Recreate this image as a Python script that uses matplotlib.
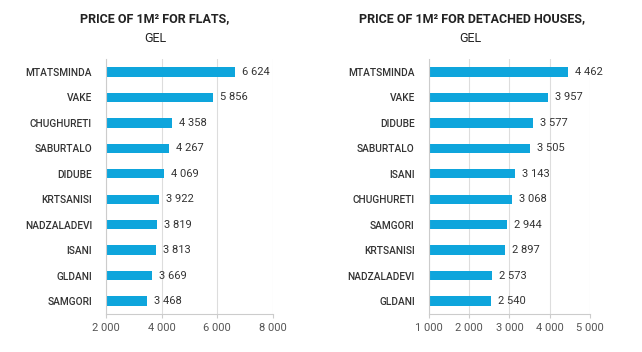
import matplotlib.pyplot as plt

plt.rcParams['font.family'] = ['Roboto', 'DejaVu Sans']

flat_districts = ['MTATSMINDA', 'VAKE', 'CHUGHURETI', 'SABURTALO', 'DIDUBE',
                  'KRTSANISI', 'NADZALADEVI', 'ISANI', 'GLDANI', 'SAMGORI']
flat_prices = [6624, 5856, 4358, 4267, 4069, 3922, 3819, 3813, 3669, 3468]

house_districts = ['MTATSMINDA', 'VAKE', 'DIDUBE', 'SABURTALO', 'ISANI',
                   'CHUGHURETI', 'SAMGORI', 'KRTSANISI', 'NADZALADEVI', 'GLDANI']
house_prices = [4462, 3957, 3577, 3505, 3143, 3068, 2944, 2897, 2573, 2540]

flat_ticks = [2000, 4000, 6000, 8000]
house_ticks = [1000, 2000, 3000, 4000, 5000]

bar_color = '#0ea5dc'
text_color = '#333333'
grid_color = '#dddddd'


def fmt(v):
    return f'{v:,}'.replace(',', ' ')


def draw(ax, names, vals, ticks):
    y = range(len(names))
    ax.barh(y, vals, height=0.37, color=bar_color, left=0)
    ax.set_yticks(list(y))
    ax.set_yticklabels(names, fontsize=7.3, color=text_color, fontweight='medium')
    ax.set_ylim(len(names) - 0.5, -0.5)
    ax.set_xlim(ticks[0], ticks[-1])
    ax.set_xticks(ticks)
    ax.set_xticklabels([fmt(t) for t in ticks], fontsize=8, color='#555555')
    for yi, v in zip(y, vals):
        ax.annotate(fmt(v), (v, yi), xytext=(5, 0), textcoords='offset points',
                    va='center', ha='left', fontsize=8, color=text_color)
    ax.grid(axis='x', color=grid_color, linewidth=0.8)
    ax.set_axisbelow(True)
    for s in ['top', 'right']:
        ax.spines[s].set_visible(False)
    for s in ['left', 'bottom']:
        ax.spines[s].set_color('#cccccc')
    ax.tick_params(axis='y', length=0, pad=10)
    ax.tick_params(axis='x', length=3, color='#cccccc', pad=4)


fig = plt.figure(figsize=(6.42, 3.52), dpi=100)
ax1 = fig.add_axes([0.1651, 0.1088, 0.2601, 0.7227])
ax2 = fig.add_axes([0.6678, 0.1088, 0.2513, 0.7227])

draw(ax1, flat_districts, flat_prices, flat_ticks)
draw(ax2, house_districts, house_prices, house_ticks)

fig.text(155 / 642, 1 - 19 / 352, 'PRICE OF 1M² FOR FLATS,', ha='center', va='center',
         fontsize=9, fontweight='bold', color='#222222')
fig.text(155 / 642, 1 - 38 / 352, 'GEL', ha='center', va='center',
         fontsize=9, color='#222222')
fig.text(472 / 642, 1 - 19 / 352, 'PRICE OF 1M² FOR DETACHED HOUSES,', ha='center',
         va='center', fontsize=9, fontweight='bold', color='#222222')
fig.text(470 / 642, 1 - 38 / 352, 'GEL', ha='center', va='center',
         fontsize=9, color='#222222')

fig.savefig('out.png', dpi=100)
